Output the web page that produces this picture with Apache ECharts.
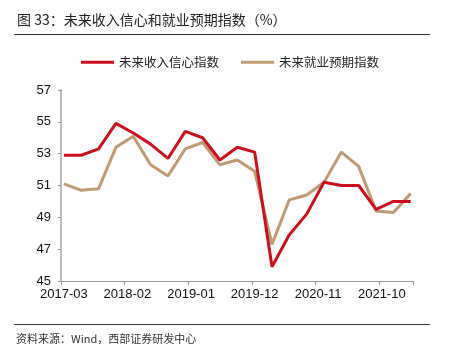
<!DOCTYPE html>
<html>
<head>
<meta charset="utf-8">
<script src="https://cdn.jsdelivr.net/npm/echarts@6/dist/echarts.min.js"></script>
<style>
html,body{margin:0;padding:0;background:#fff;}
#chart{width:449px;height:357px;}
</style>
</head>
<body>
<div id="chart"></div>
<script>
var quarters = ['2017-03','2017-06','2017-09','2017-12','2018-03','2018-06','2018-09','2018-12',
  '2019-03','2019-06','2019-09','2019-12','2020-03','2020-06','2020-09','2020-12',
  '2021-03','2021-06','2021-09','2021-12','2022-03'];
var incomeConfidence = [52.9,52.9,53.3,54.9,54.3,53.6,52.7,54.4,54.0,52.6,53.4,53.1,45.9,47.9,49.2,51.2,51.0,51.0,49.5,50.0,50.0];
var employmentExpect = [51.1,50.7,50.8,53.4,54.1,52.3,51.6,53.3,53.7,52.3,52.6,51.9,47.3,50.1,50.4,51.2,53.1,52.2,49.4,49.3,50.5];
var seriesNames = ['未来收入信心指数','未来就业预期指数'];
var yTicks = [45,47,49,51,53,55,57];
var startYear = 2017, startMonth = 3, monthCount = 61;

var months = [];
for (var i = 0; i < monthCount; i++) {
  var m = startMonth - 1 + i;
  var y = startYear + Math.floor(m / 12);
  var mm = (m % 12) + 1;
  months.push(y + '-' + (mm < 10 ? '0' + mm : mm));
}
function pairs(vals){ return quarters.map(function(q,k){ return [q, vals[k]]; }); }

var chart = echarts.init(document.getElementById('chart'));
var cjk = '"Noto Sans CJK SC", sans-serif';
chart.setOption({
  animation: false,
  backgroundColor: '#fff',
  graphic: [
    {type:'text', left:17, top:13, style:{text:'图 33：未来收入信心和就业预期指数（%）', font:'14px ' + cjk, fill:'#222'}},
    {type:'line', shape:{x1:14, y1:34.5, x2:430, y2:34.5}, style:{stroke:'#333', lineWidth:1}},
    {type:'line', shape:{x1:14, y1:324.5, x2:430, y2:324.5}, style:{stroke:'#333', lineWidth:1}},
    {type:'text', left:16, top:333, style:{text:'资料来源：Wind，西部证券研发中心', font:'11px ' + cjk, fill:'#333'}}
  ],
  legend: {
    top: 51, left: 76, itemGap: 22, itemWidth: 33, itemHeight: 3,
    icon: 'rect',
    textStyle: {fontFamily: cjk, fontSize: 12.5, color: '#222'},
    data: seriesNames
  },
  grid: {left: 61, right: 35.4, top: 90, bottom: 76, containLabel: false},
  xAxis: {
    type: 'category', data: months, boundaryGap: true,
    axisLine: {lineStyle: {color: '#999', width: 1}},
    axisTick: {show: true, interval: 10, length: 4, lineStyle: {color: '#999'}},
    axisLabel: {interval: 10, color: '#111', fontFamily: 'Liberation Sans, Arial', fontSize: 13, margin: 7}
  },
  yAxis: {
    type: 'value', min: yTicks[0], max: yTicks[yTicks.length-1], interval: 2,
    axisLine: {show: true, lineStyle: {color: '#bbb', width: 2}},
    axisTick: {show: true, length: 3, lineStyle: {color: '#999'}},
    splitLine: {show: false},
    axisLabel: {color: '#111', fontFamily: 'Liberation Sans, Arial', fontSize: 13, margin: 10}
  },
  series: [
    {name: seriesNames[0], type: 'line', data: pairs(incomeConfidence), showSymbol: false, symbol: 'none',
     lineStyle: {color: '#CC0E1F', width: 3}, itemStyle: {color: '#CC0E1F'}, z: 3},
    {name: seriesNames[1], type: 'line', data: pairs(employmentExpect), showSymbol: false, symbol: 'none',
     lineStyle: {color: '#BE9B74', width: 3}, itemStyle: {color: '#BE9B74'}, z: 2}
  ]
});
</script>
</body>
</html>
